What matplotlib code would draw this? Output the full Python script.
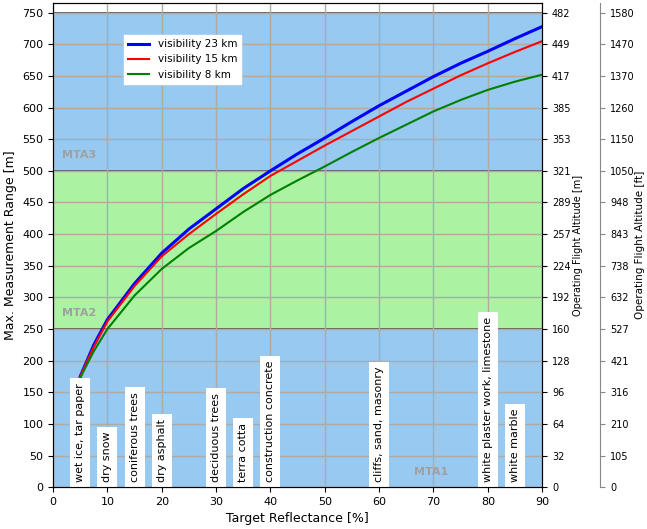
import matplotlib
matplotlib.use("Agg")
import matplotlib.pyplot as plt

# Target reflectance [%] and maximum measurement range [m] per visibility
reflectance = [5, 7.5, 10, 15, 20, 25, 30, 35, 40, 45, 50, 55, 60, 65, 70, 75, 80, 85, 90]
range_23km = [175, 225, 265, 322, 370, 408, 440, 472, 500, 527, 552, 578, 603, 626, 649, 670, 689, 709, 728]
range_15km = [175, 222, 262, 318, 365, 400, 432, 463, 492, 516, 540, 563, 586, 609, 630, 651, 670, 688, 705]
range_8km = [173, 215, 250, 303, 345, 378, 405, 435, 462, 485, 507, 530, 552, 573, 594, 612, 628, 641, 652]

# Typical surfaces and their reflectance [%]
materials = ["wet ice, tar paper", "dry snow", "coniferous trees", "dry asphalt",
             "deciduous trees", "terra cotta", "construction concrete",
             "cliffs, sand, masonry", "white plaster work, limestone", "white marble"]
material_refl = [5, 10, 15, 20, 30, 35, 40, 60, 80, 85]

# Measurement-range zones
zone_names = ["MTA1", "MTA2", "MTA3"]
zone_bounds = [0, 250, 500, 750]

# Range ticks and their equivalents as flight altitude
range_ticks = list(range(0, 751, 50))
alt_m_labels = ["0", "32", "64", "96", "128", "160", "192", "224", "257", "289",
                "321", "353", "385", "417", "449", "482"]
alt_ft_labels = ["0", "105", "210", "316", "421", "527", "632", "738", "843", "948",
                 "1050", "1150", "1260", "1370", "1470", "1580"]

BLUE_BG = "#98c9f1"
GREEN_BG = "#abf2a2"
GRID = "#b0aaa2"

fig = plt.figure(figsize=(6.47, 5.29), dpi=100)
ax = fig.add_axes([0.082, 0.079, 0.756, 0.915])

ymax = 765
ax.set_xlim(0, 90)
ax.set_ylim(0, ymax)

zone_colors = [BLUE_BG, GREEN_BG, BLUE_BG]
for lo, hi, c in zip(zone_bounds[:-1], zone_bounds[1:], zone_colors):
    ax.axhspan(lo, hi, color=c, zorder=0, lw=0)
for b in zone_bounds[1:]:
    ax.axhline(b, color="#555555", lw=1.3, zorder=2)

ax.set_xticks(range(0, 91, 10))
ax.set_yticks(range_ticks)
ax.grid(True, color=GRID, lw=1, zorder=1)
ax.set_axisbelow(False)
for gl in ax.get_xgridlines() + ax.get_ygridlines():
    gl.set_zorder(1)

ax.plot(reflectance, range_23km, color="blue", lw=2.2, label="visibility 23 km", zorder=4)
ax.plot(reflectance, range_15km, color="red", lw=1.5, label="visibility 15 km", zorder=4)
ax.plot(reflectance, range_8km, color="green", lw=1.5, label="visibility 8 km", zorder=4)

for name, r in zip(materials, material_refl):
    ax.text(r, 8, name, rotation=90, ha="center", va="bottom", fontsize=8,
            bbox=dict(boxstyle="square,pad=0.45", facecolor="white", edgecolor="none"),
            zorder=5)

zone_label_pos = [(66.5, 24), (1.7, 275), (1.7, 525)]
for name, (x, y) in zip(zone_names, zone_label_pos):
    ax.text(x, y, name, color="#a0a0a0", fontsize=8, fontweight="bold",
            ha="left", va="center", zorder=3)

ax.set_xlabel("Target Reflectance [%]", fontsize=9)
ax.set_ylabel("Max. Measurement Range [m]", fontsize=9)
ax.tick_params(labelsize=8)

leg = ax.legend(loc="upper left", bbox_to_anchor=(0.135, 0.945), fontsize=7.5,
                frameon=True, fancybox=False, edgecolor="white", framealpha=1)
leg.set_zorder(6)

# Flight altitude in metres
ax2 = ax.twinx()
ax2.set_ylim(0, ymax)
ax2.set_yticks(range_ticks)
ax2.set_yticklabels(alt_m_labels)
ax2.tick_params(labelsize=7)
ax2.set_ylabel("Operating Flight Altitude [m]", fontsize=7, labelpad=2)

# Flight altitude in feet
ax3 = ax.twinx()
ax3.spines["right"].set_position(("axes", 1.119))
ax3.spines["right"].set_color("#888888")
for s in ["top", "left", "bottom"]:
    ax3.spines[s].set_visible(False)
ax3.set_ylim(0, ymax)
ax3.set_yticks(range_ticks)
ax3.set_yticklabels(alt_ft_labels)
ax3.tick_params(labelsize=7, color="#888888")
ax3.set_ylabel("Operating Flight Altitude [ft]", fontsize=7.5, labelpad=0)

fig.savefig("out.png", dpi=100)
